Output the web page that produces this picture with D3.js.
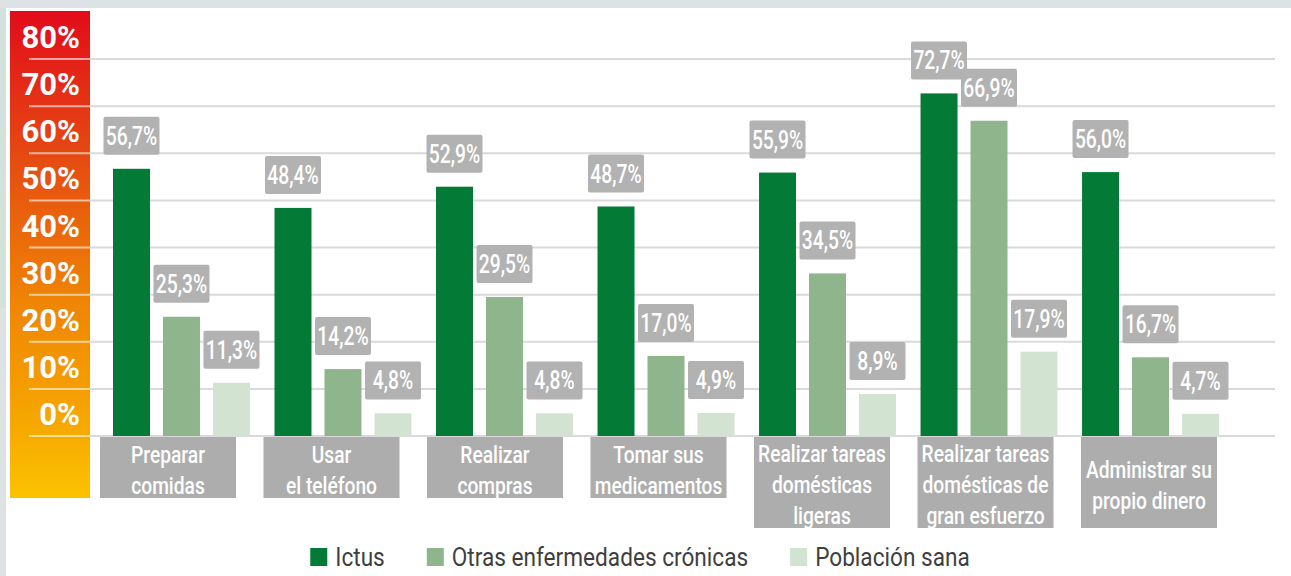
<!DOCTYPE html>
<html>
<head>
<meta charset="utf-8">
<script src="https://cdn.jsdelivr.net/npm/d3@7"></script>
<style>
  html, body { margin: 0; padding: 0; background: #dde2e4; }
  svg { display: block; }
  text { font-family: Roboto, "Liberation Sans", sans-serif; }
</style>
</head>
<body>
<svg id="chart" width="1291" height="576"></svg>
<script>
// ---------- DATA ----------
const categories = [
  ["Preparar", "comidas"],
  ["Usar", "el teléfono"],
  ["Realizar", "compras"],
  ["Tomar sus", "medicamentos"],
  ["Realizar tareas", "domésticas", "ligeras"],
  ["Realizar tareas", "domésticas de", "gran esfuerzo"],
  ["Administrar su", "propio dinero"]
];
const boxRows = [2, 2, 2, 2, 3, 3, 3];
const seriesNames = ["Ictus", "Otras enfermedades crónicas", "Población sana"];
const ictus = [56.7, 48.4, 52.9, 48.7, 55.9, 72.7, 56.0];
const otras = [25.3, 14.2, 29.5, 17.0, 34.5, 66.9, 16.7];
const sana  = [11.3, 4.8, 4.8, 4.9, 8.9, 17.9, 4.7];
const yTicks = [0, 10, 20, 30, 40, 50, 60, 70, 80];
const seriesColors = ["#047a37", "#8fb58d", "#d3e3d1"];

const series = [ictus, otras, sana];

// ---------- SETUP ----------
const svg = d3.select("#chart");
const W = 1291, H = 576;
const SX = 0.8; // horizontal condensing of text

// background panel
svg.append("rect").attr("x", 6).attr("y", 8).attr("width", W - 6).attr("height", H - 8).attr("fill", "#ffffff");
svg.append("rect").attr("x", 0).attr("y", 8).attr("width", 6).attr("height", 300).attr("fill", "#d3e2dc");

const y = d3.scaleLinear().domain([0, 80]).range([436, 59]);

// gradient bar
const defs = svg.append("defs");
const grad = defs.append("linearGradient").attr("id", "axisGrad")
  .attr("x1", 0).attr("y1", 0).attr("x2", 0).attr("y2", 1);
[[0, "#e20b1b"], [0.3, "#e64a12"], [0.6, "#ef8505"], [0.85, "#f6a800"], [1, "#fcc200"]]
  .forEach(([o, c]) => grad.append("stop").attr("offset", o).attr("stop-color", c));
svg.append("rect").attr("x", 10).attr("y", 11).attr("width", 80).attr("height", 487).attr("fill", "url(#axisGrad)");

// gridlines
const grid = svg.append("g");
grid.selectAll("line.g").data(yTicks).join("line")
  .attr("x1", 90).attr("x2", 1275)
  .attr("y1", d => y(d)).attr("y2", d => y(d))
  .attr("stroke", "#dadada").attr("stroke-width", 2);
grid.selectAll("line.w").data(yTicks).join("line")
  .attr("x1", 29).attr("x2", 90)
  .attr("y1", d => y(d)).attr("y2", d => y(d))
  .attr("stroke", "#ffffff").attr("stroke-opacity", 0.6).attr("stroke-width", 2);

// tick labels
svg.append("g").selectAll("text").data(yTicks).join("text")
  .attr("transform", d => `translate(80,${y(d) - 11}) scale(0.97,1)`)
  .attr("text-anchor", "end")
  .attr("fill", "#ffffff")
  .attr("font-weight", 700)
  .attr("font-size", 32)
  .text(d => d + "%");

// ---------- BARS ----------
const x0 = d3.scaleBand().domain(d3.range(categories.length)).range([113, 1219]).paddingInner(0.152).paddingOuter(0);
const x1 = d3.scaleBand().domain(d3.range(series.length)).range([0, x0.bandwidth()]).paddingInner(0.26).paddingOuter(0);

const groups = svg.append("g").selectAll("g").data(categories).join("g")
  .attr("transform", (d, i) => `translate(${x0(i)},0)`);

groups.each(function (cat, i) {
  const g = d3.select(this);
  series.forEach((s, j) => {
    const v = s[i];
    const bx = x1(j), bw = x1.bandwidth();
    g.append("rect")
      .attr("x", bx).attr("y", y(v))
      .attr("width", bw).attr("height", y(0) - y(v))
      .attr("fill", seriesColors[j]);
    const cx = bx + bw / 2;
    const lw = 56, lh = 38;
    const top = y(v) - 14 - lh;
    g.append("rect")
      .attr("x", cx - lw / 2).attr("y", top)
      .attr("width", lw).attr("height", lh)
      .attr("rx", 2)
      .attr("fill", "#b2b2b2");
    g.append("text")
      .attr("transform", `translate(${cx},${top + lh / 2 + 9}) scale(0.77,1)`)
      .attr("text-anchor", "middle")
      .attr("fill", "#ffffff")
      .attr("font-size", 25)
      .attr("font-weight", 500)
      .text(v.toFixed(1).replace(".", ",") + "%");
  });
});

// ---------- CATEGORY BOXES ----------
const xb = d3.scaleBand().domain(d3.range(categories.length)).range([100, 1217]).paddingInner(0.168).paddingOuter(0);
const lineH = 31;
const boxTop = 437;
const boxes = svg.append("g").selectAll("g").data(categories).join("g")
  .attr("transform", (d, i) => `translate(${xb(i)},${boxTop})`);
boxes.append("rect")
  .attr("x", 0).attr("y", 0)
  .attr("width", xb.bandwidth())
  .attr("height", (d, i) => boxRows[i] === 3 ? 91 : 61)
  .attr("fill", "#adadad");
boxes.each(function (lines, i) {
  const g = d3.select(this);
  const bh = boxRows[i] === 3 ? 91 : 61;
  const cy = bh / 2 + 2;
  const n = lines.length;
  lines.forEach((t, k) => {
    const capMid = cy + (k - (n - 1) / 2) * lineH;
    g.append("text")
      .attr("transform", `translate(${xb.bandwidth() / 2},${capMid + 8.5}) scale(${SX},1)`)
      .attr("text-anchor", "middle")
      .attr("fill", "#ffffff")
      .attr("font-size", 24)
      .attr("font-weight", 500)
      .text(t);
  });
});

// ---------- LEGEND ----------
const legend = svg.append("g");
const LSX = 0.87;
let cursor = 0;
seriesNames.forEach((name, j) => {
  const item = legend.append("g").attr("transform", `translate(${cursor},0)`);
  item.append("rect").attr("x", 0).attr("y", -18).attr("width", 17).attr("height", 18).attr("fill", seriesColors[j]);
  const t = item.append("text")
    .attr("transform", `translate(25,0) scale(${LSX},1)`)
    .attr("fill", "#3f3f3f")
    .attr("font-size", 26)
    .text(name);
  const w = t.node().getComputedTextLength() * LSX;
  cursor += 25 + w + 42;
});
const totalW = cursor - 42;
legend.attr("transform", `translate(${640 - totalW / 2},566)`);
</script>
</body>
</html>
